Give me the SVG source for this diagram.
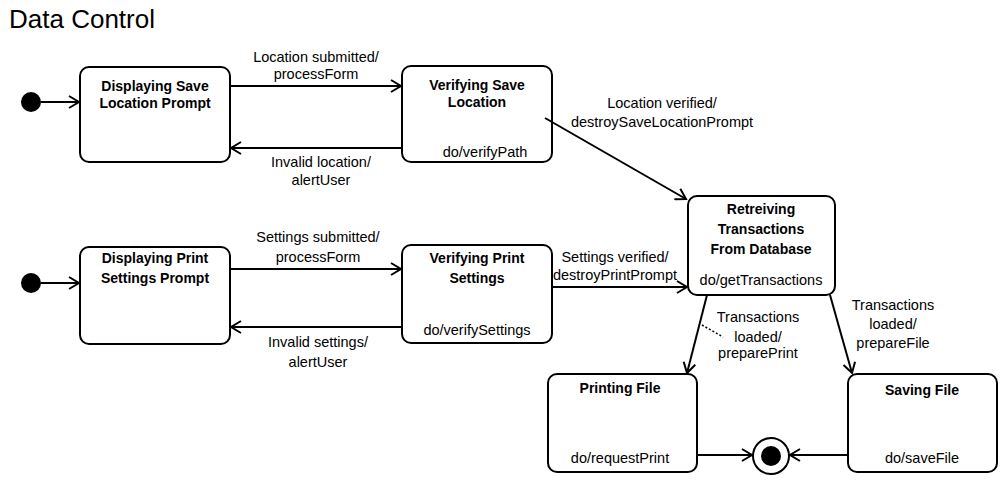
<svg xmlns="http://www.w3.org/2000/svg" width="1006" height="484" viewBox="0 0 1006 484">
<defs>
<style>
.box{fill:#fff;stroke:#000;stroke-width:2}
.t{font-family:"Liberation Sans",Arial,sans-serif;font-size:14.5px;text-anchor:middle;fill:#000}
.b{font-weight:bold;font-size:14px}
.e{stroke:#000;stroke-width:2;fill:none}
.title{font-family:"Liberation Sans",Arial,sans-serif;font-size:26px;fill:#000}
</style>
<marker id="arr" markerWidth="14" markerHeight="14" refX="11" refY="7" orient="auto" markerUnits="userSpaceOnUse">
<path d="M1,1 L11,7 L1,13" fill="none" stroke="#000" stroke-width="2"/>
</marker>
</defs>
<rect width="1006" height="484" fill="#fff"/>
<text class="title" x="9" y="28">Data Control</text>

<g id="init1"><circle cx="31" cy="102" r="10" fill="#000"/></g>
<g id="init2"><circle cx="31" cy="283" r="10" fill="#000"/></g>

<g id="dispSave"><rect class="box" x="80" y="67" width="150" height="95" rx="9"/>
<text class="t b" x="155" y="91">Displaying Save</text><text class="t b" x="155" y="108">Location Prompt</text></g>

<g id="verSave"><rect class="box" x="402" y="66" width="150" height="96" rx="9"/>
<text class="t b" x="477" y="90">Verifying Save</text><text class="t b" x="477" y="107">Location</text>
<text class="t" x="485" y="157">do/verifyPath</text></g>

<g id="retr"><rect class="box" x="688" y="196" width="147" height="99" rx="9"/>
<text class="t b" x="761" y="214">Retreiving</text><text class="t b" x="761" y="234">Transactions</text><text class="t b" x="761" y="254">From Database</text>
<text class="t" x="761" y="285">do/getTransactions</text></g>

<g id="dispPrint"><rect class="box" x="80" y="247" width="150" height="97" rx="9"/>
<text class="t b" x="155" y="263">Displaying Print</text><text class="t b" x="155" y="283">Settings Prompt</text></g>

<g id="verPrint"><rect class="box" x="402" y="245" width="150" height="98" rx="9"/>
<text class="t b" x="477" y="263">Verifying Print</text><text class="t b" x="477" y="283">Settings</text>
<text class="t" x="477" y="335">do/verifySettings</text></g>

<g id="printing"><rect class="box" x="548" y="374" width="149" height="98" rx="9"/>
<text class="t b" x="620" y="393">Printing File</text>
<text class="t" x="620" y="463">do/requestPrint</text></g>

<g id="saving"><rect class="box" x="848" y="374" width="149" height="98" rx="9"/>
<text class="t b" x="922" y="395">Saving File</text>
<text class="t" x="922" y="463">do/saveFile</text></g>

<g id="final"><circle cx="771" cy="456" r="18" fill="#fff" stroke="#000" stroke-width="2"/><circle cx="771" cy="456" r="10" fill="#000"/></g>

<g id="edges">
<line class="e" x1="41" y1="102" x2="79" y2="102" marker-end="url(#arr)"/>
<line class="e" x1="41" y1="283" x2="79" y2="283" marker-end="url(#arr)"/>
<line class="e" x1="230" y1="86" x2="401" y2="86" marker-end="url(#arr)"/>
<line class="e" x1="402" y1="148" x2="231" y2="148" marker-end="url(#arr)"/>
<line class="e" x1="545" y1="118" x2="686" y2="199" marker-end="url(#arr)"/>
<line class="e" x1="230" y1="269" x2="401" y2="269" marker-end="url(#arr)"/>
<line class="e" x1="402" y1="327" x2="231" y2="327" marker-end="url(#arr)"/>
<line class="e" x1="552" y1="287" x2="687" y2="287" marker-end="url(#arr)"/>
<line class="e" x1="707" y1="295" x2="687" y2="373" marker-end="url(#arr)"/>
<line class="e" x1="830" y1="295" x2="852" y2="373" marker-end="url(#arr)"/>
<line class="e" x1="697" y1="455" x2="752" y2="455" marker-end="url(#arr)"/>
<line class="e" x1="848" y1="455" x2="790" y2="455" marker-end="url(#arr)"/>
<line x1="702" y1="325" x2="723" y2="337" stroke="#000" stroke-width="1.5" stroke-dasharray="2,2"/>
<text class="t" x="316" y="62">Location submitted/</text><text class="t" x="316" y="79">processForm</text>
<text class="t" x="321" y="167">Invalid location/</text><text class="t" x="321" y="185">alertUser</text>
<text class="t" x="662" y="108">Location verified/</text><text class="t" x="662" y="127">destroySaveLocationPrompt</text>
<text class="t" x="318" y="242">Settings submitted/</text><text class="t" x="318" y="262">processForm</text>
<text class="t" x="318" y="347">Invalid settings/</text><text class="t" x="318" y="367">alertUser</text>
<text class="t" x="615" y="262">Settings verified/</text><text class="t" x="615" y="280">destroyPrintPrompt</text>
<text class="t" x="758" y="322">Transactions</text><text class="t" x="758" y="342">loaded/</text><text class="t" x="758" y="358">preparePrint</text>
<text class="t" x="893" y="310">Transactions</text><text class="t" x="893" y="329">loaded/</text><text class="t" x="893" y="348">prepareFile</text>
</g>
</svg>
